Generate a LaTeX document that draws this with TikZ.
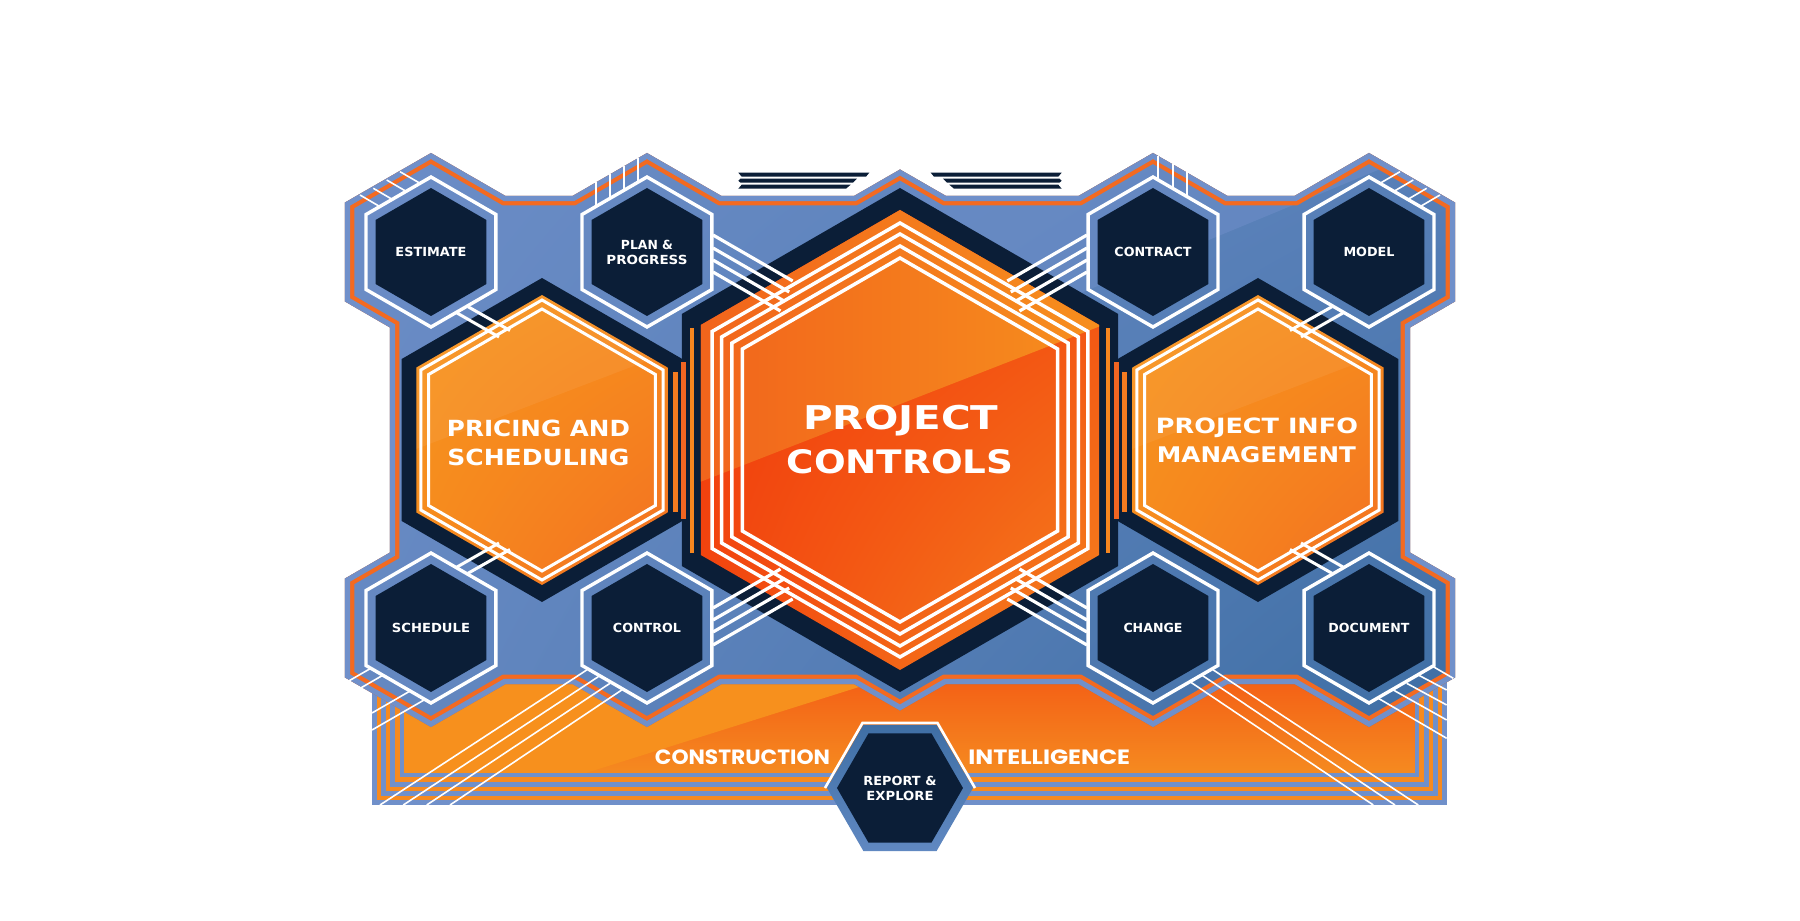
\documentclass[tikz,border=0pt]{standalone}
\usepackage{fontspec}
\usepackage{graphicx}
\newfontfamily\labfont{DejaVu Sans}
\newfontfamily\bandfont{Poppins}
\usetikzlibrary{calc,shadings}
\definecolor{navy}{HTML}{0B1E37}
\definecolor{blueL}{HTML}{6C8DC7}
\definecolor{blueD}{HTML}{3E6EA4}
\definecolor{rimblue}{HTML}{7090CA}
\definecolor{orA}{HTML}{F7941D}
\definecolor{orB}{HTML}{F26522}
\definecolor{orC}{HTML}{F47B20}
\definecolor{orRed}{HTML}{F2380C}
\definecolor{orRedB}{HTML}{F24A10}
\definecolor{orRedC}{HTML}{F2420E}
\definecolor{orEnd}{HTML}{F58A20}
\definecolor{orGl}{HTML}{F15F1C}
\definecolor{rimor}{HTML}{F36A21}
\definecolor{stripeor}{HTML}{F68A1F}
\definecolor{repA}{HTML}{3F6FA5}
\definecolor{repB}{HTML}{6088C1}
\tikzset{
 hexagonpath/.style n args={3}{insert path={(#1,#2-#3) -- ({#1+0.866*#3},{#2-0.5*#3}) -- ({#1+0.866*#3},{#2+0.5*#3}) -- (#1,#2+#3) -- ({#1-0.866*#3},{#2+0.5*#3}) -- ({#1-0.866*#3},{#2-0.5*#3}) -- cycle}},
 mainpoly/.style={insert path={(-555,-237.5) -- (-469,-287) -- (-394.5,-244) -- (-327.5,-244) -- (-253,-287) -- (-178.5,-244) -- (-46,-244) -- (0,-270.5) -- (46,-244) -- (178.5,-244) -- (253,-287) -- (327.5,-244) -- (394.5,-244) -- (469,-287) -- (555,-237.5) -- (555,-138.5) -- (510,-112.5) -- (510,112.5) -- (555,138.5) -- (555,237.5) -- (469,287) -- (394.5,244) -- (327.5,244) -- (253,287) -- (178.5,244) -- (46,244) -- (0,270.5) -- (-46,244) -- (-178.5,244) -- (-253,287) -- (-327.5,244) -- (-394.5,244) -- (-469,287) -- (-555,237.5) -- (-555,138.5) -- (-510,112.5) -- (-510,-112.5) -- (-555,-138.5) -- cycle}},
 conn/.style={white, line width=3.2},
 thinline/.style={white, line width=1.6},
 hexline/.style={white, line width=3.4, line join=miter},
 lab/.style={anchor=base, inner sep=0pt, text=white},
}
\newcommand\smallhex[2]{%
  \draw[hexline] [hexagonpath={#1}{#2}{75}];
  \fill[navy] [hexagonpath={#1}{#2}{64}];}
\newcommand\medhex[1]{%
  \fill[navy] [hexagonpath={#1}{0}{162}];}
\newcommand\medhexin[1]{%
  \shade[upper left=orA, upper right=orA!85!orB, lower left=orA!80!orB, lower right=orB!80!orA] [hexagonpath={#1}{0}{145}];
  \begin{scope}
    \clip[hexagonpath={#1}{0}{145}];
    \fill[white, opacity=0.06] ({#1-160},{22}) -- ({#1+160},{-100}) -- ({#1+160},{-160}) -- ({#1-160},{-160}) -- cycle;
  \end{scope}
  \draw[hexline, line width=3] [hexagonpath={#1}{0}{140}];
  \draw[hexline, line width=3] [hexagonpath={#1}{0}{131}];}
\newcommand\centralgroup{%
  \draw[conn] (-187,-205) -- (-107.3,-159);
  \draw[conn] (-187,-192) -- (-110.8,-148);
  \draw[conn] (-187,-180) -- (-115.1,-138.5);
  \draw[conn] (-187,-168) -- (-119.5,-129);}
\newcommand\epgroup{%
  \draw[conn, line width=3] (-443,-127) -- (-401,-103);
  \draw[conn, line width=3] (-432,-133.3) -- (-390,-109.5);}
\newcommand\estcorner{%
  \draw[thinline] (-540,-245) -- (-520,-233.3);
  \draw[thinline] (-526.7,-251.7) -- (-506.7,-240);
  \draw[thinline] (-513.3,-260) -- (-493.3,-248.3);
  \draw[thinline] (-500,-268.3) -- (-480,-256.7);}
\newcommand\topbars{%
  \fill[navy] (-161.7,-267.3) -- (-30.7,-267.3) -- (-34,-263.3) -- (-158.3,-263.3) -- cycle;
  \fill[navy] (-159.5,-261.3) -- (-43,-261.3) -- (-47,-257.3) -- (-159.5,-257.3) -- (-161.7,-259.3) -- cycle;
  \fill[navy] (-158.3,-255.3) -- (-49.3,-255.3) -- (-54,-251.3) -- (-161.7,-251.3) -- cycle;}
\newcommand\sidebars{%
  \fill[orC] (-227,-68) rectangle (-222,72);
  \fill[orB] (-219,-78) rectangle (-214,79);
  \fill[orA!70!orB] (-210,-112) rectangle (-206,113);}
\begin{document}
\begin{tikzpicture}[x=1pt,y=-1pt]
\useasboundingbox (-900,-440) rectangle (900,481);
\fill[white] (-900,-440) rectangle (900,481);
% ---------- bottom band ----------
\foreach \i in {0,...,6}{%
  \pgfmathsetmacro\dd{\i*4.6}
  \ifodd\i\def\stripecol{stripeor}\else\def\stripecol{rimblue}\fi
  \fill[\stripecol] (-528+\dd,150) rectangle (547-\dd,365-\dd);
}
\shade[top color=orRed, bottom color=orEnd] (-495.8,150) rectangle (514.8,332.8);
\begin{scope}
  \clip (-495.8,150) rectangle (514.8,332.8);
  \fill[orA!92!orB] (-497,150) -- (267,150) -- (-314,333) -- (-497,333) -- cycle;
\end{scope}
% ---------- main blue body with rim ----------
\begin{scope}
  \clip[mainpoly];
  \shade[upper left=blueL, lower left=blueL!85!blueD, upper right=blueL!55!blueD, lower right=blueD] [mainpoly];
  \fill[blueL, opacity=0.6] (0,-320) -- (0,-252) -- (181.4,-147.3) -- (600,-320.5) -- cycle;
  \draw[rimor, line width=19, line join=miter] [mainpoly];
  \draw[rimblue, line width=10.5, line join=miter] [mainpoly];
\end{scope}
% ---------- top bars ----------
\topbars
\begin{scope}[xscale=-1]\topbars\end{scope}
% ---------- navy hexes ----------
\medhex{-358}
\medhex{358}
\fill[navy] [hexagonpath={0}{0}{252}];
\sidebars
\begin{scope}[xscale=-1]\sidebars\end{scope}
% ---------- orange hexes ----------
\medhexin{-358}
\medhexin{358}
\begin{scope}
  \clip[hexagonpath={0}{0}{230}];
  \shade[upper left=orRed, upper right=orRedB, lower left=orRedC, lower right=orEnd] (-230,-230) rectangle (230,230);
  \shade[left color=orGl, right color=orA] (-250,61.5) -- (250,-133.2) -- (250,-240) -- (-250,-240) -- cycle;
\end{scope}
\foreach \r in {217,206,194,182}{\draw[hexline, line width=3.5] [hexagonpath={0}{0}{\r}];}
% ---------- connectors ----------
\centralgroup
\begin{scope}[xscale=-1]\centralgroup\end{scope}
\begin{scope}[yscale=-1]\centralgroup\end{scope}
\begin{scope}[xscale=-1,yscale=-1]\centralgroup\end{scope}
\epgroup
\begin{scope}[xscale=-1]\epgroup\end{scope}
\begin{scope}[yscale=-1]\epgroup\end{scope}
\begin{scope}[xscale=-1,yscale=-1]\epgroup\end{scope}
\estcorner
\begin{scope}[xscale=-1]\estcorner\end{scope}
% plan top verticals
\foreach \xx in {-304,-290,-276,-262}{\draw[thinline] (\xx,{-287+(-253-\xx)*0.577}) -- (\xx,{-263+(-253-\xx)*0.577});}
% contract top verticals
\foreach \xx in {258,272.7,286.7}{\draw[thinline] (\xx,{-287+(\xx-253)*0.577}) -- (\xx,{-263+(\xx-253)*0.577});}
% schedule bottom-left
\draw[thinline] (-553,242) -- (-529.2,228.3);
\draw[thinline] (-540,248.4) -- (-517.1,235.2);
\draw[thinline] (-528,273) -- (-489.9,251);
\draw[thinline] (-528,290) -- (-475.1,259.5);
% control long lines
\draw[thinline] (-313.3,230) -- (-520,365);
\draw[thinline] (-301.7,236.7) -- (-496.7,365);
\draw[thinline] (-290,243.3) -- (-473.3,365);
\draw[thinline] (-278.3,250) -- (-450,365);
% change long lines
\draw[thinline] (290,241.7) -- (473.3,365);
\draw[thinline] (301.7,235) -- (495,365);
\draw[thinline] (313.3,230) -- (518.3,365);
% document bottom-right
\draw[thinline] (478.3,258.3) -- (546.7,298.3);
\draw[thinline] (493.3,250) -- (546.7,280);
\draw[thinline] (506.7,243.3) -- (546.7,265);
\draw[thinline] (518.3,235) -- (546.7,250);
\draw[thinline] (533.3,226.7) -- (553.3,238.3);
% ---------- small hexes ----------
\smallhex{-469}{-188}
\smallhex{-253}{-188}
\smallhex{253}{-188}
\smallhex{469}{-188}
\smallhex{-469}{188}
\smallhex{-253}{188}
\smallhex{253}{188}
\smallhex{469}{188}
% ---------- report & explore ----------
\draw[white, line width=2.6] (-75,348) -- (-37.5,283) -- (37.5,283) -- (75,348);
\shade[top color=repA, bottom color=repB] (-73,348) -- (-36.5,284.8) -- (36.5,284.8) -- (73,348) -- (36.5,411.2) -- (-36.5,411.2) -- cycle;
\fill[navy] (-63,348) -- (-31.5,293.4) -- (31.5,293.4) -- (63,348) -- (31.5,402.6) -- (-31.5,402.6) -- cycle;
% ---------- labels ----------
\node[lab] (estimate) at (-469,-183.35) {\resizebox{71pt}{9.3pt}{\labfont\bfseries ESTIMATE}};
\node[lab] (plan) at (-253,-190.35) {\resizebox{52pt}{9.3pt}{\labfont\bfseries PLAN \&}};
\node[lab] (progress) at (-253,-175.35) {\resizebox{81pt}{9.3pt}{\labfont\bfseries PROGRESS}};
\node[lab] (contract) at (253,-183.35) {\resizebox{77pt}{9.3pt}{\labfont\bfseries CONTRACT}};
\node[lab] (model) at (469,-183.35) {\resizebox{51pt}{9.3pt}{\labfont\bfseries MODEL}};
\node[lab] (schedule) at (-469,192.65) {\resizebox{78pt}{9.3pt}{\labfont\bfseries SCHEDULE}};
\node[lab] (control) at (-253,192.65) {\resizebox{68pt}{9.3pt}{\labfont\bfseries CONTROL}};
\node[lab] (change) at (253,192.65) {\resizebox{59pt}{9.3pt}{\labfont\bfseries CHANGE}};
\node[lab] (document) at (469,192.65) {\resizebox{81pt}{9.3pt}{\labfont\bfseries DOCUMENT}};
\node[lab] (report) at (0,345.15) {\resizebox{73pt}{9.3pt}{\labfont\bfseries REPORT \&}};
\node[lab] (explore) at (0,360.15) {\resizebox{67pt}{9.3pt}{\labfont\bfseries EXPLORE}};
\node[lab] (pricing) at (-361.5,-3.4) {\resizebox{183pt}{16.5pt}{\labfont\bfseries PRICING AND}};
\node[lab] (scheduling) at (-361.5,25.7) {\resizebox{182pt}{16.5pt}{\labfont\bfseries SCHEDULING}};
\node[lab] (projinfo) at (357,-6.7) {\resizebox{202pt}{15.6pt}{\labfont\bfseries PROJECT INFO}};
\node[lab] (management) at (356.5,22.7) {\resizebox{199pt}{16pt}{\labfont\bfseries MANAGEMENT}};
\node[lab] (project) at (0.8,-10.7) {\resizebox{195pt}{24.3pt}{\labfont\bfseries PROJECT}};
\node[lab] (controls) at (0,34) {\resizebox{226.7pt}{24pt}{\labfont\bfseries CONTROLS}};
\node[lab] (construction) at (-157.5,324) {\resizebox{175pt}{14.7pt}{\bandfont\bfseries CONSTRUCTION}};
\node[lab] (intelligence) at (149.2,324) {\resizebox{161.7pt}{14.7pt}{\bandfont\bfseries INTELLIGENCE}};
\end{tikzpicture}
\end{document}
